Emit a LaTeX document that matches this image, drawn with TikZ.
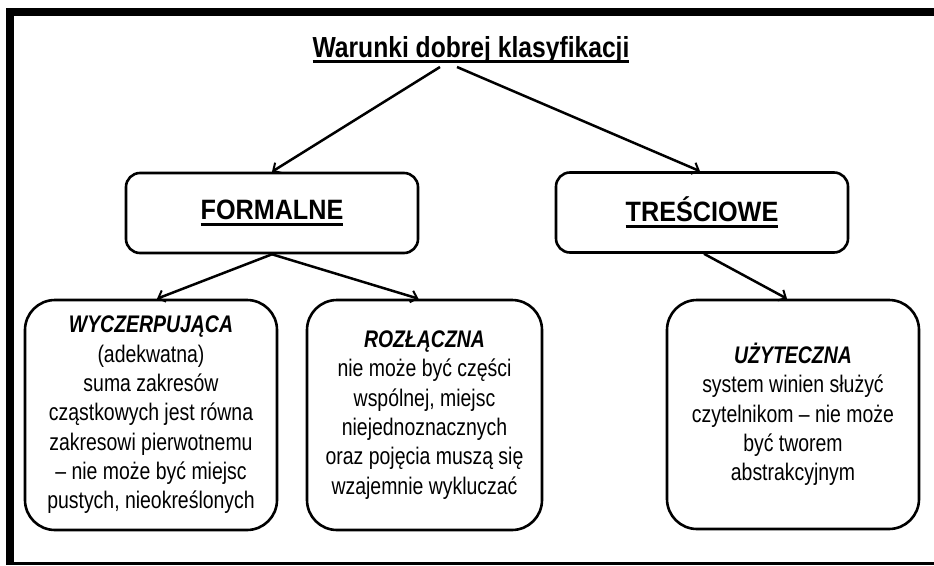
\documentclass[tikz,border=0pt]{standalone}
\usepackage{fontspec}
\setmainfont{Liberation Sans}
\newfontfamily\titlef[FakeStretch=0.85]{Liberation Sans}
\newfontfamily\headf[FakeStretch=0.9]{Liberation Sans}
\newfontfamily\bodyf[FakeStretch=0.81]{Liberation Sans}
\usetikzlibrary{arrows.meta}
\newcommand\myul[3]{\setbox0\hbox{#3}\rlap{\rule[#1]{\wd0}{#2}}\box0}
\tikzset{
  topbox/.style={draw, line width=2.6pt, rounded corners=14pt, minimum width=292pt, minimum height=80pt, inner sep=0pt,
    font=\headf\bfseries\fontsize{28}{32}\selectfont},
  subbox/.style={draw, line width=2.6pt, rounded corners=30pt, minimum height=230pt, inner sep=0pt, align=center,
    font=\bodyf\fontsize{24}{29.3}\selectfont},
  conn/.style={line width=2.5pt, -{Straight Barb[length=6pt,width=12pt,line width=2pt]}},
  frame/.style={fill=black}
}
\newcommand\bt[1]{{\bfseries\itshape #1}}
\begin{document}
\begin{tikzpicture}[x=1pt,y=-1pt]
\useasboundingbox (0,0) rectangle (934,565);
\fill[white] (0,0) rectangle (934,565);
% frame
\fill[frame] (6,8) rectangle (14,565);
\fill[frame] (6,8) rectangle (934,16);
\fill[frame] (6,562) rectangle (934,565);
% title
\node[anchor=base, inner sep=0pt, font=\titlef\bfseries\fontsize{29}{34}\selectfont] (title) at (471,57)
  {\myul{-6pt}{2.8pt}{Warunki dobrej klasyfikacji}};
\coordinate (t1) at (440,67);
\coordinate (t2) at (457,67);
% level 2
\node[topbox] (formal) at (272,213) {\raisebox{-2pt}{\myul{-6.5pt}{2.8pt}{FORMALNE}}};
\node[topbox] (tresc) at (702,212.5) {\raisebox{-2pt}{\myul{-6.5pt}{2.8pt}{TREŚCIOWE}}};
% level 3
\node[subbox, minimum width=252pt] (wycz) at (151,415)
  {\bt{WYCZERPUJĄCA}\\(adekwatna)\\suma zakresów\\cząstkowych jest równa\\zakresowi pierwotnemu\\– nie może być miejsc\\pustych, nieokreślonych};
\node[subbox, minimum width=235pt] (rozl) at (424.5,415)
  {\bt{ROZŁĄCZNA}\\nie może być części\\wspólnej, miejsc\\niejednoznacznych\\oraz pojęcia muszą się\\wzajemnie wykluczać};
\node[subbox, minimum width=252pt, minimum height=229pt] (uzyt) at (793,414.5)
  {\bt{UŻYTECZNA}\\system winien służyć\\czytelnikom – nie może\\być tworem\\abstrakcyjnym};
% connectors
\draw[conn] (t1) -- (formal.north);
\draw[conn] (t2) -- ([xshift=-2pt]tresc.north);
\draw[conn] (formal.south) -- ([xshift=6pt]wycz.north);
\draw[conn] (formal.south) -- ([xshift=-6pt]rozl.north);
\draw[conn] ([xshift=2pt]tresc.south) -- ([xshift=-6pt]uzyt.north);
\end{tikzpicture}
\end{document}
